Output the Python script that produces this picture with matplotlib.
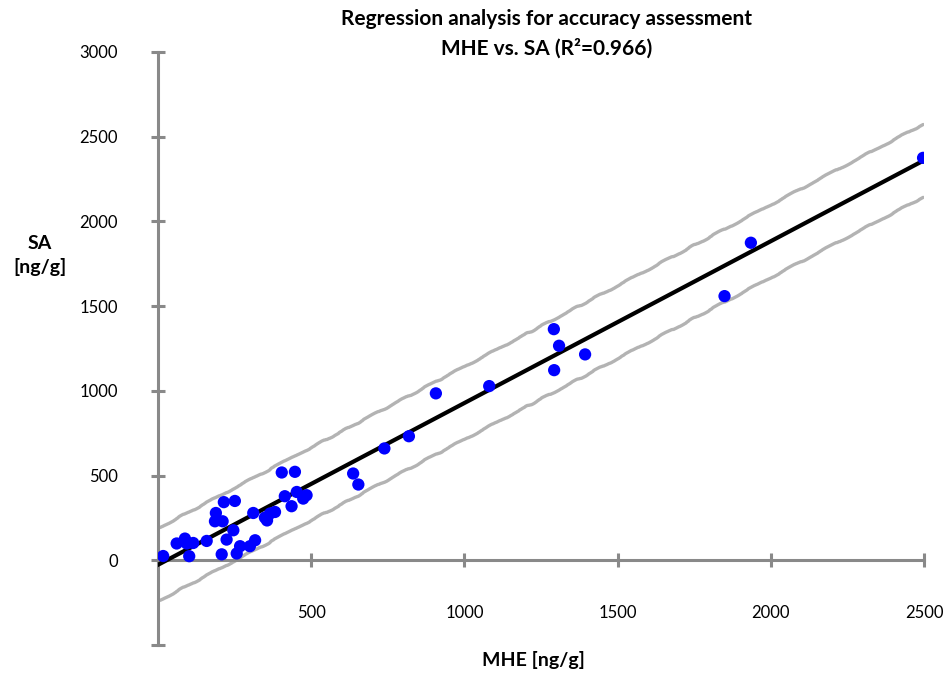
import numpy as np
import matplotlib
matplotlib.use("Agg")
import matplotlib.pyplot as plt

plt.rcParams["font.family"] = ["Lato", "DejaVu Sans"]

# ── Data: paired measurements (ng/g) ──────────────────────────────────────
mhe = [17, 61, 88, 94, 115, 102, 159, 189, 186, 211, 215, 251, 208, 224,
       246, 257, 268, 311, 317, 300, 349, 356, 366, 382, 404, 447, 414, 436,
       453, 474, 485, 637, 654, 739, 819, 907, 1081, 1293, 1309, 1292, 1394,
       1849, 1935, 2497]
sa = [25, 99, 128, 99, 102, 24, 114, 279, 230, 230, 343, 350, 35, 122,
      177, 40, 83, 279, 118, 83, 252, 235, 276, 285, 518, 522, 378, 319,
      403, 364, 384, 512, 447, 660, 732, 985, 1028, 1122, 1266, 1364, 1215,
      1559, 1874, 2375]

# Linear fit and prediction band half-width
slope = 0.955
intercept = -27
band_half = 215
r_squared = 0.966

x_ticks = [500, 1000, 1500, 2000, 2500]
y_ticks = [0, 500, 1000, 1500, 2000, 2500, 3000]

mhe = np.array(mhe)
sa = np.array(sa)

fig = plt.figure(figsize=(9.51, 6.81), dpi=100)
ax = fig.add_axes([0.1661, 0.0529, 0.8055, 0.8708])

x_line = np.array([0, mhe.max()])
y_fit = slope * x_line + intercept
axis_gray = "#898989"

for offset in (band_half, -band_half):
    band, = ax.plot(x_line, y_fit + offset, color="#b3b3b3", linewidth=2.4,
                    solid_capstyle="round", zorder=2)
    band.set_sketch_params(scale=0.7, length=70, randomness=8)

ax.plot(x_line, y_fit, color="black", linewidth=3.0, zorder=3)
ax.scatter(mhe, sa, s=78, color="#0000ff", edgecolors="none", zorder=4)

ax.set_xlim(0, 2500)
ax.set_ylim(-500, 3000)

for side in ("top", "right"):
    ax.spines[side].set_visible(False)
ax.spines["bottom"].set_position(("data", 0))
for side in ("left", "bottom"):
    ax.spines[side].set_color(axis_gray)
    ax.spines[side].set_linewidth(2.2)

ax.set_xticks(x_ticks)
ax.set_xticklabels([str(t) for t in x_ticks])
ax.set_yticks([-500] + y_ticks)
ax.set_yticklabels([""] + [str(t) for t in y_ticks])
ax.tick_params(axis="both", direction="inout", length=10, width=2.2,
               color=axis_gray, labelsize=12, labelcolor="black")
ax.tick_params(axis="x", pad=27)
ax.tick_params(axis="y", pad=24)

fig.text(0.575, 0.987,
         f"Regression analysis for accuracy assessment\nMHE vs. SA (R\u00b2={r_squared})",
         ha="center", va="top", fontsize=15, fontweight="bold", linespacing=1.55)
fig.text(0.042, 0.625, "SA\n[ng/g]", ha="center", va="center",
         fontsize=14, fontweight="bold", linespacing=1.35)
fig.text(0.561, 0.031, "MHE [ng/g]", ha="center", va="center",
         fontsize=14, fontweight="bold")

fig.savefig("out.png", dpi=100)
